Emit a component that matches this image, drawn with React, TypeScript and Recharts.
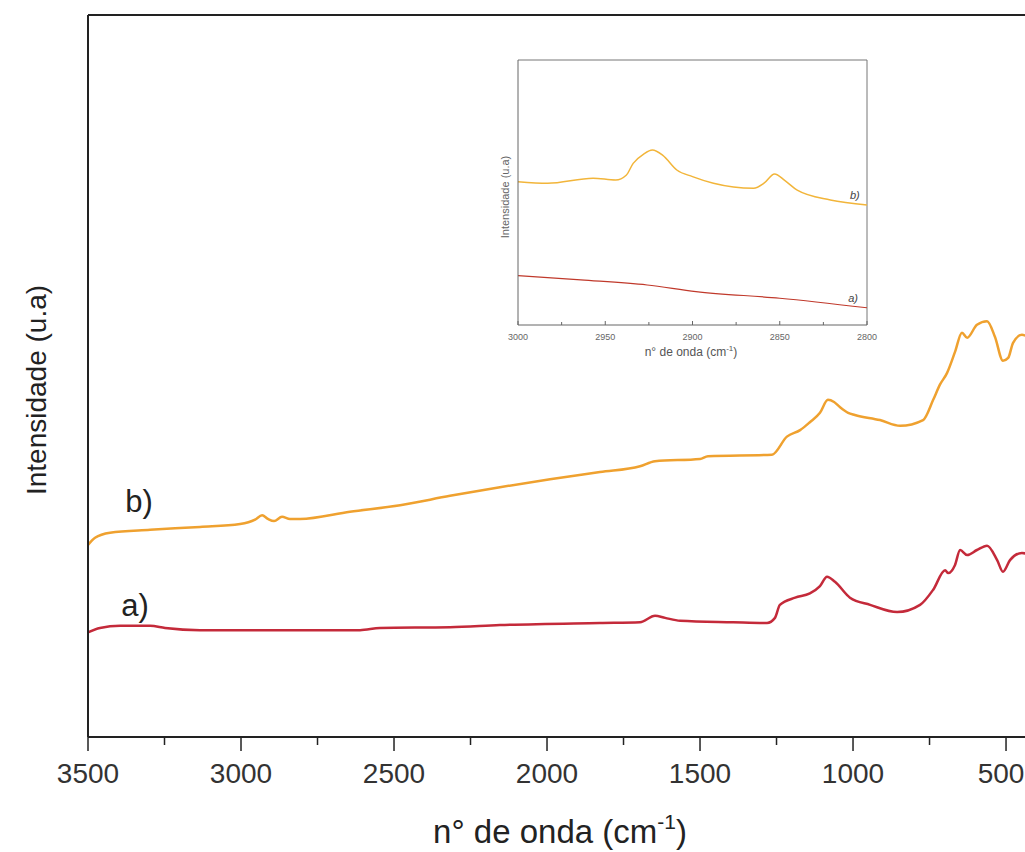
import React from 'react';
import { LineChart, Line, XAxis, YAxis, ReferenceLine, ReferenceDot } from 'recharts';

// main spectrum, wavenumber (cm-1) vs intensity (a.u.)
const waveB = [3500, 3477, 3428, 3297, 3134, 3003, 2954, 2931, 2912, 2892, 2866, 2840, 2807, 2644, 2480, 2317, 2154, 1990, 1827, 1696, 1647, 1500, 1474, 1265, 1216, 1173, 1141, 1108, 1082, 1062, 1043, 1016, 994, 912, 846, 771, 738, 716, 693, 667, 644, 627, 595, 562, 536, 510, 493, 477, 448, 422];
const intensB = [26.6, 27.6, 28.3, 28.7, 29.1, 29.5, 30.1, 30.7, 30.2, 29.9, 30.5, 30.2, 30.2, 31.2, 32.1, 33.4, 34.6, 35.7, 36.7, 37.5, 38.2, 38.5, 38.9, 39.1, 41.6, 42.5, 43.6, 44.9, 46.7, 46.4, 45.7, 44.9, 44.6, 43.9, 43.1, 43.9, 46.7, 48.8, 50.4, 53.3, 56.0, 55.3, 57.1, 57.6, 55.4, 52.1, 52.5, 54.6, 55.7, 55.3];

const waveA = [3500, 3461, 3395, 3297, 3248, 3134, 2807, 2611, 2546, 2317, 2154, 1827, 1696, 1647, 1614, 1565, 1392, 1281, 1255, 1239, 1189, 1141, 1108, 1085, 1059, 1010, 944, 856, 781, 738, 699, 689, 667, 650, 627, 595, 562, 529, 510, 487, 448, 422];
const intensA = [14.5, 15.1, 15.4, 15.4, 15.1, 14.8, 14.8, 14.8, 15.1, 15.2, 15.5, 15.8, 15.9, 16.8, 16.5, 16.1, 15.9, 15.8, 16.5, 18.3, 19.3, 19.9, 20.9, 22.2, 21.5, 19.3, 18.3, 17.3, 18.3, 20.4, 23.1, 22.7, 23.8, 25.9, 25.2, 25.9, 26.5, 24.5, 22.9, 24.5, 25.5, 25.2];

const mainTicks = [3500, 3250, 3000, 2750, 2500, 2250, 2000, 1750, 1500, 1250, 1000, 750, 500];

// inset: zoom on 3000-2800 cm-1
const insetWaveB = [3000, 2983, 2957, 2944, 2938, 2934, 2928, 2923, 2917, 2909, 2900, 2888, 2865, 2859, 2853, 2847, 2840, 2821, 2800];
const insetIntensB = [54.1, 53.5, 55.4, 54.7, 56.5, 61.0, 64.5, 66.0, 64.0, 58.5, 56.0, 53.5, 51.6, 53.5, 57.0, 54.5, 50.9, 47.2, 45.3];
const insetWaveA = [3000, 2964, 2926, 2898, 2850, 2800];
const insetIntensA = [18.6, 17.0, 15.1, 12.6, 10.1, 6.5];
const insetTicks = [3000, 2975, 2950, 2925, 2900, 2875, 2850, 2825, 2800];

const toPoints = (xs: number[], ys: number[]) => xs.map((x, i) => ({ x, y: ys[i] }));

const seriesB = toPoints(waveB, intensB);
const seriesA = toPoints(waveA, intensA);
const insetB = toPoints(insetWaveB, insetIntensB);
const insetA = toPoints(insetWaveA, insetIntensA);

const AXIS = '#222';

const MainTick = (props: any) => {
  const { x, y, payload } = props;
  const major = payload.value % 500 === 0;
  // keep the last label inside the window
  const tx = Math.min(x, 1001);
  return (
    <g>
      <line x1={x} y1={y} x2={x} y2={y + (major ? 14 : 8)} stroke={AXIS} strokeWidth={1.5} />
      {major && (
        <text x={tx} y={y + 46} textAnchor="middle" fontSize={28} fill="#333">
          {payload.value}
        </text>
      )}
    </g>
  );
};

const InsetTick = (props: any) => {
  const { x, y, payload } = props;
  const major = payload.value % 50 === 0;
  return (
    <g>
      <line x1={x} y1={y} x2={x} y2={y - (major ? 4 : 3)} stroke="#666" strokeWidth={1} />
      {major && (
        <text x={x} y={y + 15} textAnchor="middle" fontSize={9} fill="#666">
          {payload.value}
        </text>
      )}
    </g>
  );
};

export default function App() {
  return (
    <div
      style={{
        position: 'fixed',
        left: 0,
        top: 0,
        width: 1025,
        height: 852,
        overflow: 'hidden',
        background: '#fff',
        fontFamily: '"Liberation Sans", Arial, sans-serif',
      }}
    >
      <div style={{ position: 'absolute', left: 0, top: 0 }}>
        <LineChart width={1025} height={852} margin={{ top: 15, right: 0, left: 0, bottom: 0 }}>
          <XAxis
            type="number"
            dataKey="x"
            domain={[438, 3500]}
            reversed
            allowDataOverflow
            ticks={mainTicks}
            interval={0}
            tick={MainTick}
            tickLine={false}
            tickSize={0}
            tickMargin={0}
            axisLine={{ stroke: AXIS, strokeWidth: 2 }}
            height={115}
            label={{
              content: () => (
                <text x={560} y={843} textAnchor="middle" fontSize={33} fill="#222">
                  n° de onda (cm
                  <tspan dy={-14} fontSize={21}>-1</tspan>
                  <tspan dy={14}>)</tspan>
                </text>
              ),
            }}
          />
          <YAxis
            type="number"
            domain={[0, 100]}
            width={88}
            tick={false}
            tickLine={false}
            axisLine={{ stroke: AXIS, strokeWidth: 2 }}
            label={{
              content: () => (
                <text
                  x={36}
                  y={390}
                  transform="rotate(-90 36 390)"
                  textAnchor="middle"
                  dominantBaseline="central"
                  fontSize={28}
                  fill="#222"
                >
                  Intensidade (u.a)
                </text>
              ),
            }}
          />
          <ReferenceLine y={100} stroke={AXIS} strokeWidth={2} />
          <Line data={seriesB} dataKey="y" type="monotone" stroke="#EFA12F" strokeWidth={2.5} dot={false} isAnimationActive={false} />
          <Line data={seriesA} dataKey="y" type="monotone" stroke="#C42A3A" strokeWidth={2.5} dot={false} isAnimationActive={false} />
          <ReferenceDot x={3333} y={32.7} r={0} fill="none" stroke="none"
            label={{ value: 'b)', position: 'center', fontSize: 31, fill: '#222' }} />
          <ReferenceDot x={3346} y={18.3} r={0} fill="none" stroke="none"
            label={{ value: 'a)', position: 'center', fontSize: 31, fill: '#222' }} />
        </LineChart>
      </div>

      <div style={{ position: 'absolute', left: 470, top: 50 }}>
        <LineChart width={420} height={320} margin={{ top: 10, right: 23, left: 0, bottom: 0 }}>
          <XAxis
            type="number"
            dataKey="x"
            domain={[2800, 3000]}
            reversed
            ticks={insetTicks}
            interval={0}
            tick={InsetTick}
            tickLine={false}
            tickSize={0}
            tickMargin={0}
            axisLine={{ stroke: '#666', strokeWidth: 1 }}
            height={45}
            label={{
              content: () => (
                <text x={221} y={306} textAnchor="middle" fontSize={12} fill="#555">
                  n° de onda (cm
                  <tspan dy={-5} fontSize={8}>-1</tspan>
                  <tspan dy={5}>)</tspan>
                </text>
              ),
            }}
          />
          <YAxis
            type="number"
            domain={[0, 100]}
            width={48}
            tick={false}
            tickLine={false}
            axisLine={{ stroke: '#666', strokeWidth: 1 }}
            label={{
              content: () => (
                <text
                  x={35}
                  y={147}
                  transform="rotate(-90 35 147)"
                  textAnchor="middle"
                  dominantBaseline="central"
                  fontSize={11}
                  fill="#666"
                >
                  Intensidade (u.a)
                </text>
              ),
            }}
          />
          <ReferenceLine y={100} stroke="#777" strokeWidth={1} />
          <ReferenceLine x={2800} stroke="#777" strokeWidth={1} />
          <Line data={insetB} dataKey="y" type="monotone" stroke="#F2B53A" strokeWidth={1.5} dot={false} isAnimationActive={false} />
          <Line data={insetA} dataKey="y" type="monotone" stroke="#C0392B" strokeWidth={1.2} dot={false} isAnimationActive={false} />
          <ReferenceDot x={2807} y={49} r={0} fill="none" stroke="none"
            label={{ value: 'b)', position: 'center', fontSize: 11, fill: '#444', fontStyle: 'italic' }} />
          <ReferenceDot x={2808} y={10.2} r={0} fill="none" stroke="none"
            label={{ value: 'a)', position: 'center', fontSize: 11, fill: '#444', fontStyle: 'italic' }} />
        </LineChart>
      </div>
    </div>
  );
}
